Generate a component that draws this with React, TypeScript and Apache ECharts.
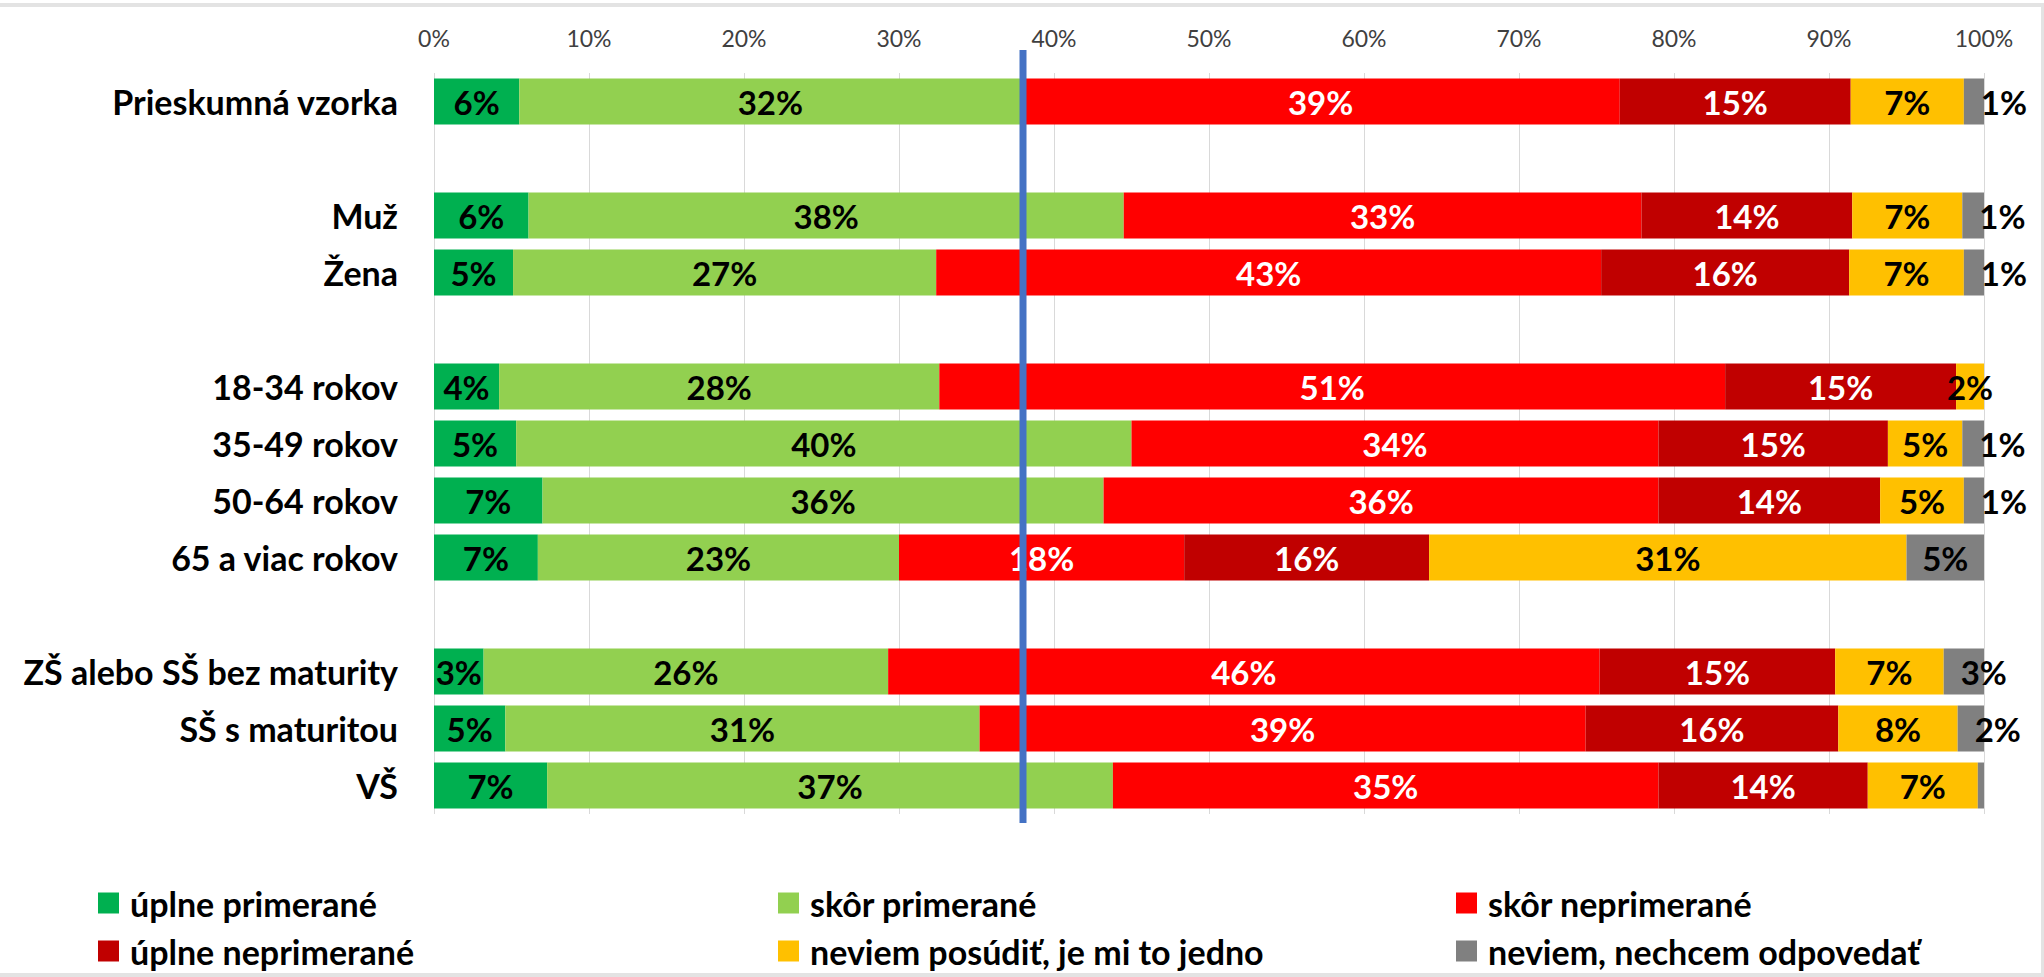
import React, { useEffect, useRef } from "react";
import * as echarts from "echarts";

const CATEGORY_GROUPS: string[][] = [
  ["Prieskumná vzorka"],
  ["Muž", "Žena"],
  ["18-34 rokov", "35-49 rokov", "50-64 rokov", "65 a viac rokov"],
  ["ZŠ alebo SŠ bez maturity", "SŠ s maturitou", "VŠ"],
];

const SERIES_NAMES = [
  "úplne primerané",
  "skôr primerané",
  "skôr neprimerané",
  "úplne neprimerané",
  "neviem posúdiť, je mi to jedno",
  "neviem, nechcem odpovedať",
];

// values in % (order follows flattened CATEGORY_GROUPS)
const uplnePrimerane = [5.5, 6.1, 5.1, 4.2, 5.3, 7.0, 6.7, 3.2, 4.6, 7.3];
const skorPrimerane = [32.4, 38.4, 27.3, 28.4, 39.7, 36.2, 23.3, 26.1, 30.6, 36.5];
const skorNeprimerane = [38.6, 33.4, 42.9, 50.7, 34.0, 35.8, 18.4, 45.9, 39.1, 35.2];
const uplneNeprimerane = [14.9, 13.6, 16.0, 14.9, 14.8, 14.3, 15.8, 15.2, 16.3, 13.5];
const neviemPosudit = [7.3, 7.1, 7.4, 1.8, 4.8, 5.4, 30.8, 7.0, 7.7, 7.1];
const neviemNechcem = [1.3, 1.4, 1.3, 0, 1.4, 1.3, 5.0, 2.6, 1.7, 0.4];

const X_TICKS = [0, 10, 20, 30, 40, 50, 60, 70, 80, 90, 100];
const REFERENCE_VALUE = 38;

const COLORS = ["#00B050", "#92D050", "#FF0000", "#C00000", "#FFC000", "#808080"];
const LABEL_COLORS = ["#000", "#000", "#fff", "#fff", "#000", "#000"];

const FONT = "Lato, 'Open Sans', sans-serif";

export default function App() {
  const ref = useRef<HTMLDivElement>(null);

  useEffect(() => {
    if (!ref.current) return;
    const chart = echarts.init(ref.current, undefined, { renderer: "svg" });

    // build category axis with spacer rows between groups
    const axisCats: string[] = [];
    const realIndex: (number | null)[] = [];
    let k = 0;
    CATEGORY_GROUPS.forEach((g, gi) => {
      if (gi > 0) {
        axisCats.push(" ".repeat(gi));
        realIndex.push(null);
      }
      g.forEach((c) => {
        axisCats.push(c);
        realIndex.push(k++);
      });
    });

    const allValues = [
      uplnePrimerane,
      skorPrimerane,
      skorNeprimerane,
      uplneNeprimerane,
      neviemPosudit,
      neviemNechcem,
    ];

    const gridLeft = 434;
    const gridRight = 2044 - 1984;
    const gridTop = 73;
    const gridHeight = 741;

    const series = allValues.map((vals, si) => ({
      name: SERIES_NAMES[si],
      type: "bar",
      stack: "total",
      barWidth: 46,
      itemStyle: { color: COLORS[si] },
      label: {
        show: true,
        position: "inside",
        color: LABEL_COLORS[si],
        fontFamily: FONT,
        fontWeight: "bold",
        fontSize: 33,
        textBorderWidth: 0,
        formatter: (p: any) => {
          const v = p.value;
          if (v == null || v === "-" || Math.round(v) === 0) return "";
          return Math.round(v) + "%";
        },
      },
      data: realIndex.map((ri) => {
        if (ri == null) return "-";
        const v = vals[ri];
        if (si === 5 && v > 0 && v < 4) {
          return {
            value: v,
            label: { position: "insideLeft", distance: 17 },
          };
        }
        return v;
      }),
    }));

    const legendPos = [
      [98, 886],
      [778, 886],
      [1456, 886],
      [98, 934],
      [778, 934],
      [1456, 934],
    ];

    const legends = SERIES_NAMES.map((n, i) => ({
      data: [n],
      left: legendPos[i][0],
      top: legendPos[i][1],
      padding: 0,
      itemWidth: 21,
      itemHeight: 21,
      icon: "rect",
      selectedMode: false,
      textStyle: {
        fontFamily: FONT,
        fontWeight: "bold",
        fontSize: 34,
        color: "#000",
        lineHeight: 34,
        padding: [0, 0, 0, 6],
      },
    }));

    chart.setOption({
      animation: false,
      backgroundColor: "#fff",
      grid: { left: gridLeft, right: gridRight, top: gridTop, height: gridHeight },
      xAxis: {
        type: "value",
        position: "top",
        min: X_TICKS[0],
        max: X_TICKS[X_TICKS.length - 1],
        interval: X_TICKS[1] - X_TICKS[0],
        axisLine: { show: false },
        axisTick: { show: false },
        splitLine: { show: true, lineStyle: { color: "#d9d9d9", width: 1 } },
        axisLabel: {
          formatter: "{value}%",
          fontFamily: FONT,
          fontSize: 23,
          color: "#404040",
          margin: 24,
        },
      },
      yAxis: {
        type: "category",
        inverse: true,
        data: axisCats,
        axisLine: { show: false },
        axisTick: { show: false },
        splitLine: { show: false },
        axisLabel: {
          fontFamily: FONT,
          fontWeight: "bold",
          fontSize: 34,
          color: "#000",
          margin: 36,
        },
      },
      legend: legends,
      series,
    });

    const x = chart.convertToPixel({ xAxisIndex: 0 }, REFERENCE_VALUE) as number;
    chart.setOption({
      graphic: [
        {
          type: "rect",
          shape: { x: 0, y: 3, width: 2044, height: 4 },
          style: { fill: "#e3e3e3" },
          silent: true,
        },
        {
          type: "rect",
          shape: { x: 0, y: 973, width: 2044, height: 4 },
          style: { fill: "#e3e3e3" },
          silent: true,
        },
        {
          type: "rect",
          shape: { x: 2041, y: 3, width: 3, height: 974 },
          style: { fill: "#e3e3e3" },
          silent: true,
        },
        {
          type: "line",
          z: 100,
          shape: { x1: x, y1: gridTop - 23, x2: x, y2: gridTop + gridHeight + 9 },
          style: { stroke: "#4472C4", lineWidth: 7 },
          silent: true,
        },
      ],
    });

    return () => chart.dispose();
  }, []);

  return (
    <div
      ref={ref}
      style={{ position: "fixed", left: 0, top: 0, width: 2044, height: 977 }}
    />
  );
}
